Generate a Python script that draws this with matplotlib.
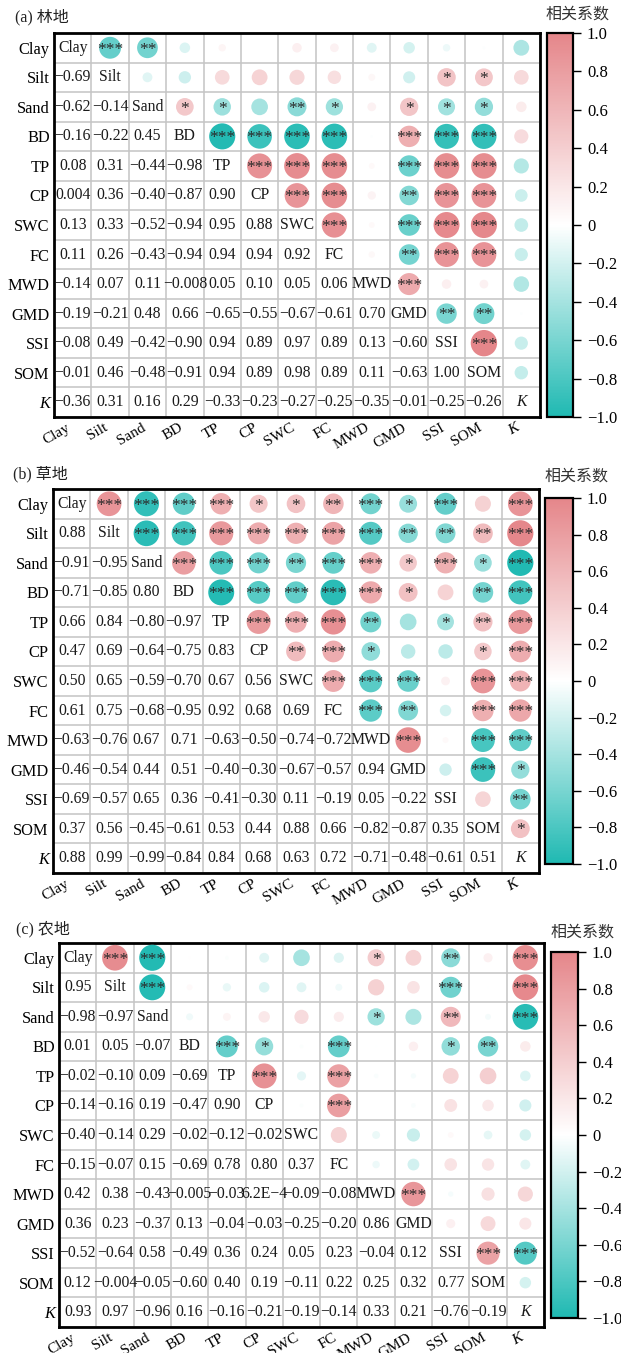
import numpy as np
import matplotlib.pyplot as plt
from matplotlib.colors import LinearSegmentedColormap, Normalize
from matplotlib.cm import ScalarMappable
from matplotlib.transforms import ScaledTranslation

plt.rcParams['font.family'] = ['Liberation Serif', 'Noto Sans CJK SC']
plt.rcParams['axes.unicode_minus'] = True

W, H = 621, 1353

variables = ["Clay", "Silt", "Sand", "BD", "TP", "CP", "SWC", "FC",
             "MWD", "GMD", "SSI", "SOM", "K"]

# lower triangle of r, row i holds columns 0..i-1
r_forest = [
    [-0.69],
    [-0.62, -0.14],
    [-0.16, -0.22, 0.45],
    [0.08, 0.31, -0.44, -0.98],
    [0.004, 0.36, -0.40, -0.87, 0.90],
    [0.13, 0.33, -0.52, -0.94, 0.95, 0.88],
    [0.11, 0.26, -0.43, -0.94, 0.94, 0.94, 0.92],
    [-0.14, 0.07, 0.11, -0.008, 0.05, 0.10, 0.05, 0.06],
    [-0.19, -0.21, 0.48, 0.66, -0.65, -0.55, -0.67, -0.61, 0.70],
    [-0.08, 0.49, -0.42, -0.90, 0.94, 0.89, 0.97, 0.89, 0.13, -0.60],
    [-0.01, 0.46, -0.48, -0.91, 0.94, 0.89, 0.98, 0.89, 0.11, -0.63, 1.00],
    [-0.36, 0.31, 0.16, 0.29, -0.33, -0.23, -0.27, -0.25, -0.35, -0.01, -0.25, -0.26],
]
# significance stars, row i holds columns i+1..12
sig_forest = [
    [3, 2, 0, 0, 0, 0, 0, 0, 0, 0, 0, 0],
    [0, 0, 0, 0, 0, 0, 0, 0, 1, 1, 0],
    [1, 1, 0, 2, 1, 0, 1, 1, 1, 0],
    [3, 3, 3, 3, 0, 3, 3, 3, 0],
    [3, 3, 3, 0, 3, 3, 3, 0],
    [3, 3, 0, 2, 3, 3, 0],
    [3, 0, 3, 3, 3, 0],
    [0, 2, 3, 3, 0],
    [3, 0, 0, 0],
    [2, 2, 0],
    [3, 0],
    [0],
]

r_grass = [
    [0.88],
    [-0.91, -0.95],
    [-0.71, -0.85, 0.80],
    [0.66, 0.84, -0.80, -0.97],
    [0.47, 0.69, -0.64, -0.75, 0.83],
    [0.50, 0.65, -0.59, -0.70, 0.67, 0.56],
    [0.61, 0.75, -0.68, -0.95, 0.92, 0.68, 0.69],
    [-0.63, -0.76, 0.67, 0.71, -0.63, -0.50, -0.74, -0.72],
    [-0.46, -0.54, 0.44, 0.51, -0.40, -0.30, -0.67, -0.57, 0.94],
    [-0.69, -0.57, 0.65, 0.36, -0.41, -0.30, 0.11, -0.19, 0.05, -0.22],
    [0.37, 0.56, -0.45, -0.61, 0.53, 0.44, 0.88, 0.66, -0.82, -0.87, 0.35],
    [0.88, 0.99, -0.99, -0.84, 0.84, 0.68, 0.63, 0.72, -0.71, -0.48, -0.61, 0.51],
]
sig_grass = [
    [3, 3, 3, 3, 1, 1, 2, 3, 1, 3, 0, 3],
    [3, 3, 3, 3, 3, 3, 3, 2, 2, 2, 3],
    [3, 3, 3, 2, 3, 3, 1, 3, 1, 3],
    [3, 3, 3, 3, 3, 1, 0, 2, 3],
    [3, 3, 3, 2, 0, 1, 2, 3],
    [2, 3, 1, 0, 0, 1, 3],
    [3, 3, 3, 0, 3, 3],
    [3, 2, 0, 3, 3],
    [3, 0, 3, 3],
    [0, 3, 1],
    [0, 2],
    [1],
]

r_crop = [
    [0.95],
    [-0.98, -0.97],
    [0.01, 0.05, -0.07],
    [-0.02, -0.10, 0.09, -0.69],
    [-0.14, -0.16, 0.19, -0.47, 0.90],
    [-0.40, -0.14, 0.29, -0.02, -0.12, -0.02],
    [-0.15, -0.07, 0.15, -0.69, 0.78, 0.80, 0.37],
    [0.42, 0.38, -0.43, -0.005, -0.03, 6.2e-4, -0.09, -0.08],
    [0.36, 0.23, -0.37, 0.13, -0.04, -0.03, -0.25, -0.20, 0.86],
    [-0.52, -0.64, 0.58, -0.49, 0.36, 0.24, 0.05, 0.23, -0.04, 0.12],
    [0.12, -0.004, -0.05, -0.60, 0.40, 0.19, -0.11, 0.22, 0.25, 0.32, 0.77],
    [0.93, 0.97, -0.96, 0.16, -0.16, -0.21, -0.19, -0.14, 0.33, 0.21, -0.76, -0.19],
]
sig_crop = [
    [3, 3, 0, 0, 0, 0, 0, 1, 0, 2, 0, 3],
    [3, 0, 0, 0, 0, 0, 0, 0, 3, 0, 3],
    [0, 0, 0, 0, 0, 1, 0, 2, 0, 3],
    [3, 1, 0, 3, 0, 0, 1, 2, 0],
    [3, 0, 3, 0, 0, 0, 0, 0],
    [0, 3, 0, 0, 0, 0, 0],
    [0, 0, 0, 0, 0, 0],
    [0, 0, 0, 0, 0],
    [3, 0, 0, 0],
    [0, 0, 0],
    [3, 3],
    [0],
]

cmap = LinearSegmentedColormap.from_list("corr", ["#1FB9B2", "#FFFFFF", "#E5868A"])
norm = Normalize(-1, 1)
n = len(variables)


def box(x0, y0, x1, y1):
    # pixel box (top-left origin) -> figure fraction rect
    return [x0 / W, 1 - y1 / H, (x1 - x0) / W, (y1 - y0) / H]


def fmt(v):
    a = abs(v)
    if a >= 0.0095 or a == 0:
        s = f"{v:.2f}"
    elif a >= 0.001:
        s = f"{v:.3f}"
    else:
        m, e = f"{v:.1E}".split("E")
        s = f"{m}E{int(e)}"
    return s.replace("-", "\u2212")


def full_matrix(lower):
    m = np.eye(n)
    for i, row in enumerate(lower, start=1):
        for j, v in enumerate(row):
            m[i, j] = v
            m[j, i] = v
    return m


def draw_panel(fig, rect, cbar_rect, lower, sig, title, title_xy, ctitle_xy):
    ax = fig.add_axes(box(*rect))
    r = full_matrix(lower)

    xs, ys, vals = [], [], []
    for i in range(n):
        for j in range(i + 1, n):
            xs.append(j)
            ys.append(i)
            vals.append(r[i, j])
    vals = np.array(vals)
    ax.scatter(xs, ys, s=360 * np.abs(vals), c=vals, cmap=cmap, norm=norm,
               linewidths=0, zorder=3)

    for i, row in enumerate(sig):
        for k, cnt in enumerate(row):
            if cnt:
                ax.text(i + 1 + k, i + 0.06, "*" * cnt, ha="center", va="center",
                        fontsize=12.5, color="#2a2a2a", zorder=4)

    for i in range(n):
        for j in range(i):
            ax.text(j, i, fmt(r[i, j]), ha="center", va="center", fontsize=11.3,
                    color="#1a1a1a", zorder=4)
        ax.text(i, i, variables[i], ha="center", va="center", fontsize=11.3,
                color="#1a1a1a", style="italic" if variables[i] == "K" else "normal",
                zorder=4)

    ax.set_xlim(-0.5, n - 0.5)
    ax.set_ylim(n - 0.5, -0.5)
    ax.set_xticks(np.arange(n))
    ax.set_yticks(np.arange(n))
    ax.set_xticklabels(variables, rotation=30, ha="right", va="top", fontsize=11)
    ax.set_yticklabels(variables, fontsize=11.8)
    ax.get_xticklabels()[-1].set_style("italic")
    ax.get_yticklabels()[-1].set_style("italic")
    shift = ScaledTranslation(6 / 100, 0, fig.dpi_scale_trans)
    for lab in ax.get_xticklabels():
        lab.set_transform(lab.get_transform() + shift)
    ax.tick_params(length=0, pad=3)
    ax.set_xticks(np.arange(-0.5, n), minor=True)
    ax.set_yticks(np.arange(-0.5, n), minor=True)
    ax.tick_params(which="minor", length=0)
    ax.grid(which="minor", color="#C4C4C4", lw=1.1)
    ax.grid(which="major", visible=False)
    ax.set_axisbelow(True)
    for sp in ax.spines.values():
        sp.set_linewidth(2)
        sp.set_color("black")

    fig.text(title_xy[0] / W, 1 - title_xy[1] / H, title, fontsize=11.5,
             va="center", ha="left", color="#222222")

    cax = fig.add_axes(box(*cbar_rect))
    ticks = np.round(np.linspace(1, -1, 11), 1)
    cb = fig.colorbar(ScalarMappable(norm=norm, cmap=cmap), cax=cax, ticks=ticks)
    cb.ax.set_yticklabels(["0" if t == 0 else f"{t:.1f}".replace("-", "\u2212") for t in ticks])
    cb.ax.tick_params(length=6, width=1, labelsize=12, pad=4)
    cb.outline.set_linewidth(1.6)
    fig.text(ctitle_xy[0] / W, 1 - ctitle_xy[1] / H, "相关系数", fontsize=11.5,
             ha="center", va="center", color="#333333")


fig = plt.figure(figsize=(W / 100, H / 100), dpi=100)

draw_panel(fig, (54, 33, 540, 417), (547, 33, 573, 417), r_forest, sig_forest,
           "(a) 林地", (15, 17), (578, 15))
draw_panel(fig, (53, 489, 539, 873), (545, 498, 573, 864), r_grass, sig_grass,
           "(b) 草地", (13, 474), (577, 477))
draw_panel(fig, (59, 943, 544, 1327), (551, 952, 578, 1318), r_crop, sig_crop,
           "(c) 农地", (16, 929), (583, 933))

fig.savefig("out.png", dpi=100)
